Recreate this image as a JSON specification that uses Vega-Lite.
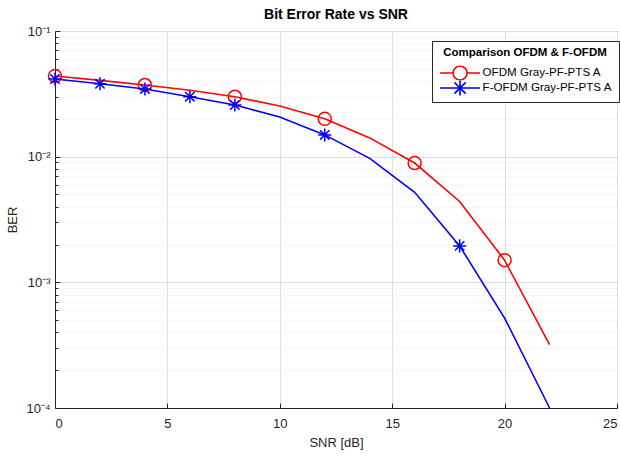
{
  "$schema": "https://vega.github.io/schema/vega-lite/v6.json",
  "width": 562,
  "height": 377,
  "autosize": "none",
  "padding": {"left": 55, "top": 31, "right": 3, "bottom": 49},
  "background": "white",
  "title": {"text": "Bit Error Rate vs SNR", "fontSize": 14, "fontWeight": "bold", "font": "Liberation Sans", "color": "#000000", "anchor": "middle", "offset": 3},
  "config": {
    "font": "Liberation Sans",
    "view": {"stroke": "#262626", "strokeWidth": 1},
    "axis": {"labelFont": "Liberation Sans", "titleFont": "Liberation Sans", "labelColor": "#262626", "titleColor": "#262626", "titleFontWeight": "normal", "domainColor": "#262626", "tickColor": "#262626"}
  },
  "data": {"values": [
    {"snr": 0, "ber": 0.0438, "series": "OFDM Gray-PF-PTS A", "marked": true},
    {"snr": 2, "ber": 0.0405, "series": "OFDM Gray-PF-PTS A", "marked": false},
    {"snr": 4, "ber": 0.0372, "series": "OFDM Gray-PF-PTS A", "marked": true},
    {"snr": 6, "ber": 0.0338, "series": "OFDM Gray-PF-PTS A", "marked": false},
    {"snr": 8, "ber": 0.0300, "series": "OFDM Gray-PF-PTS A", "marked": true},
    {"snr": 10, "ber": 0.0253, "series": "OFDM Gray-PF-PTS A", "marked": false},
    {"snr": 12, "ber": 0.0200, "series": "OFDM Gray-PF-PTS A", "marked": true},
    {"snr": 14, "ber": 0.0141, "series": "OFDM Gray-PF-PTS A", "marked": false},
    {"snr": 16, "ber": 0.0089, "series": "OFDM Gray-PF-PTS A", "marked": true},
    {"snr": 18, "ber": 0.0044, "series": "OFDM Gray-PF-PTS A", "marked": false},
    {"snr": 20, "ber": 0.0015, "series": "OFDM Gray-PF-PTS A", "marked": true},
    {"snr": 22, "ber": 0.00032, "series": "OFDM Gray-PF-PTS A", "marked": false},
    {"snr": 0, "ber": 0.0415, "series": "F-OFDM Gray-PF-PTS A", "marked": true},
    {"snr": 2, "ber": 0.0380, "series": "F-OFDM Gray-PF-PTS A", "marked": true},
    {"snr": 4, "ber": 0.0346, "series": "F-OFDM Gray-PF-PTS A", "marked": true},
    {"snr": 6, "ber": 0.0300, "series": "F-OFDM Gray-PF-PTS A", "marked": true},
    {"snr": 8, "ber": 0.0258, "series": "F-OFDM Gray-PF-PTS A", "marked": true},
    {"snr": 10, "ber": 0.0207, "series": "F-OFDM Gray-PF-PTS A", "marked": false},
    {"snr": 12, "ber": 0.0149, "series": "F-OFDM Gray-PF-PTS A", "marked": true},
    {"snr": 14, "ber": 0.0097, "series": "F-OFDM Gray-PF-PTS A", "marked": false},
    {"snr": 16, "ber": 0.0052, "series": "F-OFDM Gray-PF-PTS A", "marked": false},
    {"snr": 18, "ber": 0.00195, "series": "F-OFDM Gray-PF-PTS A", "marked": true},
    {"snr": 20, "ber": 0.00052, "series": "F-OFDM Gray-PF-PTS A", "marked": false},
    {"snr": 22, "ber": 0.0001, "series": "F-OFDM Gray-PF-PTS A", "marked": false}
  ]},
  "encoding": {
    "x": {"field": "snr", "type": "quantitative",
      "scale": {"domain": [0, 25], "nice": false, "zero": false},
      "axis": {"title": "SNR [dB]", "values": [0, 5, 10, 15, 20, 25], "labelFontSize": 13, "titleFontSize": 13, "tickSize": -5, "labelPadding": 14, "titlePadding": 6, "grid": true, "gridColor": "#dedede", "gridWidth": 1, "domain": true}},
    "y": {"field": "ber", "type": "quantitative",
      "scale": {"type": "log", "domain": [0.0001, 0.1], "nice": false},
      "axis": {"title": "BER", "titleFontSize": 13, "labelFontSize": 13, "titlePadding": 6, "labelPadding": 10,
        "values": [0.0001, 0.0002, 0.0003, 0.0004, 0.0005, 0.0006, 0.0007, 0.0008, 0.0009, 0.001, 0.002, 0.003, 0.004, 0.005, 0.006, 0.007, 0.008, 0.009, 0.01, 0.02, 0.03, 0.04, 0.05, 0.06, 0.07, 0.08, 0.09, 0.1],
        "labelExpr": "datum.value == 0.1 ? '10⁻¹' : datum.value == 0.01 ? '10⁻²' : datum.value == 0.001 ? '10⁻³' : datum.value == 0.0001 ? '10⁻⁴' : ''",
        "grid": true,
        "gridColor": "#dedede",
        "gridDash": {"condition": {"test": "indexof([0.1, 0.01, 0.001, 0.0001], datum.value) >= 0", "value": []}, "value": [1, 3]},
        "tickSize": {"condition": {"test": "indexof([0.1, 0.01, 0.001, 0.0001], datum.value) >= 0", "value": -5}, "value": -3}}}
  },
  "layer": [
    {
      "mark": {"type": "line", "strokeWidth": 1.6},
      "encoding": {
        "color": {"field": "series", "type": "nominal",
          "scale": {"domain": ["OFDM Gray-PF-PTS A", "F-OFDM Gray-PF-PTS A"], "range": ["#ff0000", "#0000ff"]},
          "legend": {"title": "Comparison OFDM & F-OFDM", "orient": "none", "legendX": 377, "legendY": 10,
            "fillColor": "white", "strokeColor": "#262626", "padding": 6, "titleAnchor": "middle",
            "titleFontSize": 11.5, "titleFontWeight": "bold", "titleColor": "#000000", "titleFont": "Liberation Sans", "titlePadding": 7,
            "labelFontSize": 11.6, "labelColor": "#000000", "labelFont": "Liberation Sans",
            "symbolType": "M-1,0L9.7,0", "clipHeight": 15,
            "symbolSize": 56, "symbolStrokeWidth": 1.6, "rowPadding": 0, "labelOffset": 33,
            "encode": {"symbols": {"update": {
              "shape": {"signal": "datum.value == 'OFDM Gray-PF-PTS A' ? 'M-1,0L2.48,0M6.22,0L9.7,0M6.22,0L6.08,0.72L5.67,1.32L5.07,1.73L4.35,1.87L3.63,1.73L3.03,1.32L2.62,0.72L2.48,0L2.62,-0.72L3.03,-1.32L3.63,-1.73L4.35,-1.87L5.07,-1.73L5.67,-1.32L6.08,-0.72Z' : 'M-1,0L9.7,0M4.35,-2.14L4.35,2.14M2.84,-1.51L5.86,1.51M2.84,1.51L5.86,-1.51'"},
              "fill": {"value": "transparent"}
            }}}}
        }
      }
    },
    {
      "transform": [{"filter": "datum.marked && datum.series == 'OFDM Gray-PF-PTS A'"}],
      "mark": {"type": "point", "filled": false, "strokeWidth": 1.5, "size": 170, "opacity": 1, "shape": "circle"},
      "encoding": {
        "color": {"field": "series", "type": "nominal", "legend": null}
      }
    },
    {
      "transform": [{"filter": "datum.marked && datum.series == 'F-OFDM Gray-PF-PTS A'"}],
      "mark": {"type": "point", "filled": false, "strokeWidth": 1.5, "size": 170, "opacity": 1, "shape": "M-1,0L1,0M0,-1L0,1M-0.72,-0.72L0.72,0.72M-0.72,0.72L0.72,-0.72"},
      "encoding": {
        "color": {"field": "series", "type": "nominal", "legend": null}
      }
    }
  ]
}
